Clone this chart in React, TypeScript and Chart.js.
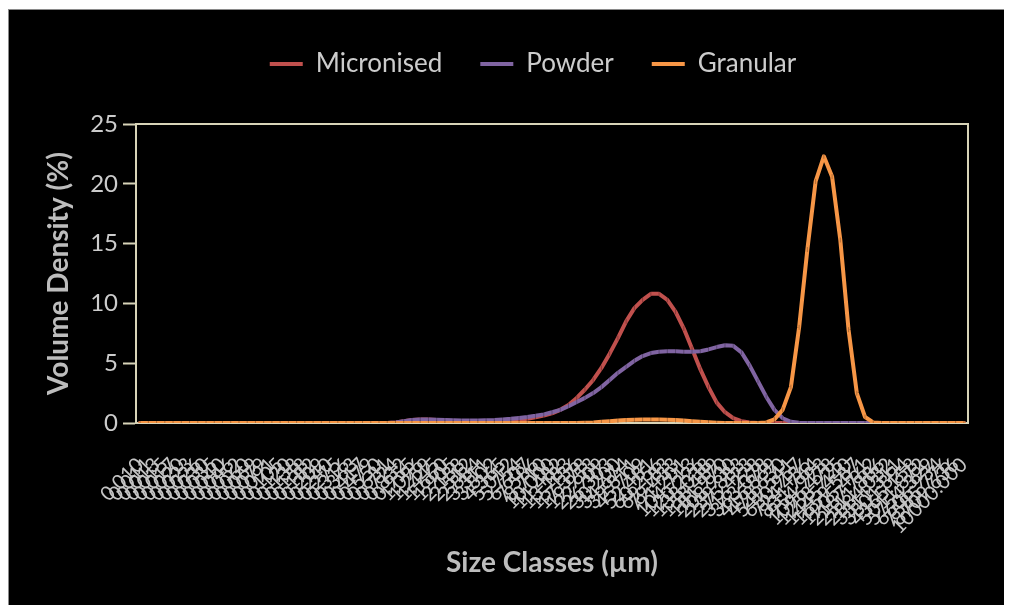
import React, { useEffect, useRef } from 'react';
import { Chart, registerables } from 'chart.js';

Chart.register(...registerables);

// Size classes (µm), as exported by the analyser
const SIZE_CLASSES = [
  '0.010', '0.011', '0.013', '0.015', '0.017', '0.020', '0.023', '0.026', '0.030', '0.035',
  '0.040', '0.046', '0.052', '0.060', '0.069', '0.079', '0.091', '0.105', '0.120', '0.138',
  '0.158', '0.182', '0.209', '0.240', '0.275', '0.316', '0.363', '0.417', '0.479', '0.550',
  '0.631', '0.724', '0.832', '0.955', '1.096', '1.259', '1.445', '1.660', '1.905', '2.188',
  '2.512', '2.884', '3.311', '3.802', '4.365', '5.012', '5.754', '6.607', '7.586', '8.710',
  '10.000', '11.482', '13.183', '15.136', '17.378', '19.953', '22.909', '26.303', '30.200', '34.674',
  '39.811', '45.709', '52.481', '60.256', '69.183', '79.433', '91.201', '104.713', '120.226', '138.038',
  '158.489', '181.970', '208.930', '239.883', '275.423', '316.228', '363.078', '416.869', '478.630', '549.541',
  '630.957', '724.436', '831.764', '954.993', '1096.478', '1258.925', '1445.440', '1659.587', '1905.461', '2187.762',
  '2511.886', '2884.032', '3311.311', '3801.894', '4365.158', '5011.872', '5754.399', '6606.934', '7585.776', '8709.636',
  '10000.000',
];

// Volume density (%) per size class
const MICRONISED = [
  0, 0, 0, 0, 0, 0, 0, 0, 0, 0,
  0, 0, 0, 0, 0, 0, 0, 0, 0, 0,
  0, 0, 0, 0, 0, 0, 0, 0, 0, 0,
  0, 0.05, 0.15, 0.25, 0.3, 0.3, 0.25, 0.2, 0.15, 0.12,
  0.1, 0.1, 0.1, 0.12, 0.15, 0.2, 0.27, 0.36, 0.48, 0.62,
  0.8, 1.1, 1.5, 2.1, 2.8, 3.6, 4.6, 5.8, 7.1, 8.5,
  9.6, 10.3, 10.8, 10.8, 10.3, 9.3, 7.9, 6.2, 4.5, 3.0,
  1.7, 0.9, 0.4, 0.15, 0.05, 0, 0, 0, 0, 0,
  0, 0, 0, 0, 0, 0, 0, 0, 0, 0,
  0, 0, 0, 0, 0, 0, 0, 0, 0, 0,
  0,
];

const POWDER = [
  0, 0, 0, 0, 0, 0, 0, 0, 0, 0,
  0, 0, 0, 0, 0, 0, 0, 0, 0, 0,
  0, 0, 0, 0, 0, 0, 0, 0, 0, 0,
  0, 0.05, 0.15, 0.25, 0.3, 0.3, 0.28, 0.25, 0.22, 0.2,
  0.2, 0.2, 0.22, 0.25, 0.3, 0.35, 0.42, 0.5, 0.6, 0.72,
  0.9, 1.1, 1.4, 1.75, 2.1, 2.5, 3.0, 3.6, 4.2, 4.7,
  5.2, 5.6, 5.85, 5.95, 6.0, 6.0, 5.95, 5.95, 6.0, 6.15,
  6.35, 6.5, 6.45, 5.9, 4.8, 3.5, 2.2, 1.1, 0.4, 0.1,
  0.02, 0, 0, 0, 0, 0, 0, 0, 0, 0,
  0, 0, 0, 0, 0, 0, 0, 0, 0, 0,
  0,
];

const GRANULAR = [
  0, 0, 0, 0, 0, 0, 0, 0, 0, 0,
  0, 0, 0, 0, 0, 0, 0, 0, 0, 0,
  0, 0, 0, 0, 0, 0, 0, 0, 0, 0,
  0, 0, 0, 0, 0, 0, 0, 0, 0, 0,
  0, 0, 0, 0, 0, 0, 0, 0, 0, 0,
  0, 0, 0, 0, 0.02, 0.05, 0.1, 0.15, 0.2, 0.25,
  0.28, 0.3, 0.3, 0.3, 0.28, 0.25, 0.2, 0.15, 0.1, 0.06,
  0.03, 0.01, 0, 0, 0, 0, 0.05, 0.3, 1.1, 3.0,
  8.0, 14.5, 20.2, 22.3, 20.6, 15.3, 7.8, 2.5, 0.5, 0.05,
  0, 0, 0, 0, 0, 0, 0, 0, 0, 0,
  0,
];

const Y_TICKS = { min: 0, max: 25, step: 5 };

const RED = '#c0504d';
const PURPLE = '#8064a2';
const ORANGE = '#f79646';
const AXIS_COLOR = '#d8d4b8';
const TEXT_COLOR = '#cccccc';
const TITLE_COLOR = '#bdbdbd';
const MARKER_COLOR = 'rgba(0, 0, 0, 0.28)';

const LEGEND_GAP = 37;
const LEGEND_SHIFT = 30;

// cream frame round the plot area, under the lines
const plotFrame = {
  id: 'plotFrame',
  beforeDatasetsDraw(chart: any) {
    const { ctx, chartArea: a } = chart;
    ctx.save();
    ctx.strokeStyle = AXIS_COLOR;
    ctx.lineWidth = 2;
    ctx.strokeRect(a.left, a.top, a.right - a.left, a.bottom - a.top);
    ctx.restore();
  },
};

// extra room under the legend and nudge it right, like the original
const legendPlacement = {
  id: 'legendPlacement',
  beforeLayout(chart: any) {
    const legend = chart.legend;
    if (legend && !legend._gapPatched) {
      const fit = legend.fit;
      legend.fit = function () {
        fit.call(this);
        this.height += LEGEND_GAP;
      };
      legend._gapPatched = true;
    }
  },
  afterLayout(chart: any) {
    const legend = chart.legend;
    if (legend) {
      legend.left += LEGEND_SHIFT;
      legend.right += LEGEND_SHIFT;
    }
  },
};

const series = (label: string, data: number[], color: string, order: number) => ({
  label,
  data,
  borderColor: color,
  backgroundColor: color,
  borderWidth: 4,
  borderJoinStyle: 'round',
  borderCapStyle: 'round',
  tension: 0,
  pointStyle: 'line',
  pointRotation: 90,
  pointRadius: 2.5,
  pointBorderWidth: 1,
  pointBorderColor: MARKER_COLOR,
  pointHoverRadius: 0,
  order,
});

const SizeChart: React.FC = () => {
  const canvasRef = useRef<HTMLCanvasElement>(null);
  const chartRef = useRef<Chart | null>(null);

  useEffect(() => {
    if (!canvasRef.current) return;
    if (chartRef.current) chartRef.current.destroy();

    chartRef.current = new Chart(canvasRef.current, {
      type: 'line',
      data: {
        labels: SIZE_CLASSES,
        datasets: [
          series('Micronised', MICRONISED, RED, 3),
          series('Powder', POWDER, PURPLE, 2),
          series('Granular', GRANULAR, ORANGE, 1),
        ] as any,
      },
      options: {
        responsive: true,
        maintainAspectRatio: false,
        animation: false,
        font: { family: 'Lato' },
        layout: { padding: { top: 3, left: 29, right: 35, bottom: 21 } },
        plugins: {
          legend: {
            position: 'top',
            labels: {
              usePointStyle: true,
              pointStyleWidth: 33,
              padding: 38,
              color: TEXT_COLOR,
              font: { family: 'Lato', size: 26 },
              generateLabels: (chart: any) =>
                chart.data.datasets.map((ds: any, i: number) => ({
                  text: ds.label,
                  fillStyle: ds.borderColor,
                  strokeStyle: ds.borderColor,
                  fontColor: TEXT_COLOR,
                  lineWidth: 4,
                  lineCap: 'butt',
                  pointStyle: 'line',
                  rotation: 0,
                  hidden: !chart.isDatasetVisible(i),
                  datasetIndex: i,
                })),
            },
          },
          tooltip: { enabled: false },
        },
        scales: {
          x: {
            type: 'category',
            offset: true,
            afterFit: (scale: any) => {
              scale.height = 161;
              scale.paddingLeft = 0;
              scale.paddingRight = 0;
            },
            grid: { display: false, drawTicks: false },
            border: { display: true, color: AXIS_COLOR, width: 2 },
            ticks: {
              autoSkip: false,
              minRotation: 45,
              maxRotation: 45,
              padding: 30,
              color: '#c4c4c4',
              font: { family: 'Lato', size: 20 },
            },
            title: {
              display: true,
              text: 'Size Classes (µm)',
              color: TITLE_COLOR,
              font: { family: 'Lato', size: 28, weight: 'bold' },
            },
          },
          y: {
            min: Y_TICKS.min,
            max: Y_TICKS.max,
            afterFit: (scale: any) => {
              scale.width = 98;
            },
            grid: {
              drawOnChartArea: false,
              drawTicks: true,
              tickLength: 13,
              tickColor: AXIS_COLOR,
              tickWidth: 2,
            },
            border: { display: true, color: AXIS_COLOR, width: 2 },
            ticks: {
              stepSize: Y_TICKS.step,
              padding: 5,
              color: TEXT_COLOR,
              font: { family: 'Lato', size: 24 },
            },
            title: {
              display: true,
              text: 'Volume Density (%)',
              color: TITLE_COLOR,
              font: { family: 'Lato', size: 28, weight: 'bold' },
            },
          },
        },
      } as any,
      plugins: [plotFrame, legendPlacement],
    });

    return () => {
      if (chartRef.current) {
        chartRef.current.destroy();
        chartRef.current = null;
      }
    };
  }, []);

  return (
    <div style={{ position: 'absolute', left: 0, top: 0, width: 1012, height: 605, overflow: 'hidden', background: '#fff' }}>
      <div
        style={{
          position: 'absolute',
          left: 8,
          top: 9,
          width: 995,
          height: 596,
          borderLeft: '1px solid #8a8a8a',
          borderTop: '1px solid #8a8a8a',
          background: '#000',
        }}
      >
        <div style={{ position: 'absolute', left: 0, top: 0, width: 994, height: 595 }}>
          <canvas ref={canvasRef}></canvas>
        </div>
      </div>
    </div>
  );
};

export default function App() {
  return <SizeChart />;
}
